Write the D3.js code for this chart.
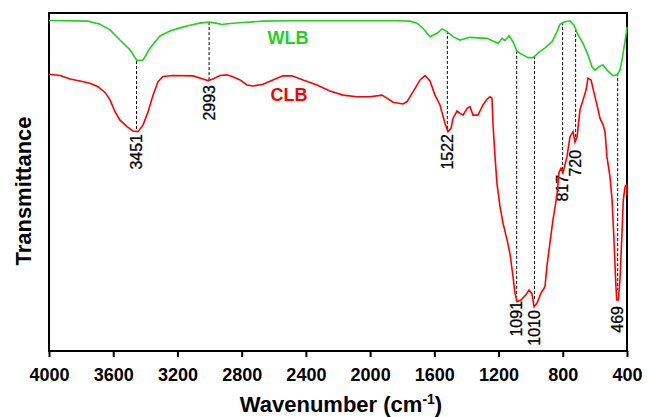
<!DOCTYPE html>
<html>
<head>
<meta charset="utf-8">
<script src="https://cdn.jsdelivr.net/npm/d3@7/dist/d3.min.js"></script>
<style>
    body { margin: 0; background: #fff; }
    .axis text { font-family: Arial, "Liberation Sans", sans-serif; }
</style>
</head>
<body>
<div id="chart"></div>
<script>
// tick labels on the wavenumber axis
var xTicks = [4000, 3600, 3200, 2800, 2400, 2000, 1600, 1200, 800, 400];

// WLB spectrum (wavenumber, transmittance a.u.)
var wlbWn = [4000, 3757, 3682, 3620, 3558, 3495, 3452, 3414, 3371, 3309, 3246, 3184, 3122, 3060, 3003, 2960, 2922, 2873, 2792, 2667,
    2499, 2044, 1832, 1752, 1708, 1671, 1627, 1583, 1552, 1521, 1484, 1440, 1378, 1272, 1235, 1203, 1178, 1160, 1135, 1110,
    1085, 1066, 1048, 1017, 985, 954, 911, 867, 836, 817, 786, 755, 730, 705, 674, 643, 618, 599, 568, 549,
    525, 487, 462, 444, 431, 419, 406, 400];
var wlbT = [97.8, 97.6, 96.7, 95.0, 92.0, 89.1, 85.9, 86.1, 89.6, 93.2, 94.7, 95.6, 96.4, 97.0, 97.3, 97.0, 96.6, 96.9, 97.2, 97.6,
    97.7, 97.7, 97.7, 97.6, 97.0, 95.5, 93.0, 94.0, 95.3, 94.5, 93.0, 92.0, 92.8, 92.5, 91.7, 91.0, 92.5, 91.8, 93.3, 91.5,
    88.6, 88.1, 87.6, 86.8, 86.8, 88.1, 89.7, 91.5, 94.5, 96.7, 97.4, 97.7, 96.4, 93.5, 91.0, 87.6, 84.1, 83.1, 84.3, 84.6,
    83.1, 81.5, 81.7, 83.1, 86.1, 89.6, 93.5, 95.9];

// CLB spectrum
var clbWn = [4000, 3931, 3869, 3807, 3745, 3695, 3651, 3620, 3589, 3558, 3514, 3477, 3446, 3414, 3383, 3352, 3321, 3290, 3228, 3103,
    3041, 3010, 2979, 2935, 2891, 2860, 2810, 2767, 2729, 2667, 2605, 2543, 2487, 2418, 2331, 2250, 2169, 2082, 2001, 1926,
    1895, 1857, 1795, 1770, 1752, 1720, 1689, 1658, 1627, 1596, 1565, 1534, 1515, 1496, 1484, 1459, 1440, 1421, 1396, 1378,
    1359, 1328, 1297, 1272, 1253, 1241, 1235, 1222, 1210, 1191, 1172, 1147, 1129, 1110, 1098, 1085, 1060, 1029, 1010, 992,
    979, 961, 936, 911, 898, 880, 861, 836, 823, 811, 799, 774, 755, 736, 724, 711, 693, 674, 655, 643,
    624, 612, 587, 568, 549, 537, 525, 506, 493, 481, 470, 464, 454, 444, 433, 423, 412, 402, 400];
var clbT = [81.9, 81.5, 80.5, 79.9, 79.2, 78.2, 76.5, 74.3, 70.8, 68.3, 66.4, 65.1, 64.9, 66.9, 70.8, 75.7, 79.7, 81.2, 81.5, 81.4,
    80.5, 80.0, 80.5, 81.5, 81.7, 81.2, 80.2, 78.7, 78.4, 78.9, 80.2, 81.4, 81.4, 80.2, 78.7, 76.9, 75.7, 75.2, 75.2, 75.7,
    74.8, 73.6, 73.1, 73.8, 75.2, 77.7, 80.2, 81.5, 79.9, 75.7, 72.8, 67.4, 64.9, 65.9, 68.8, 71.0, 70.3, 69.8, 71.8, 72.3,
    69.8, 69.8, 72.8, 74.5, 75.2, 74.8, 67.4, 57.5, 49.6, 42.7, 37.8, 32.8, 28.9, 22.0, 17.1, 14.6, 15.1, 16.7, 18.0, 16.9,
    13.1, 14.1, 17.1, 19.0, 25.4, 32.0, 38.8, 46.2, 53.0, 54.1, 52.7, 57.5, 63.4, 64.9, 61.8, 63.4, 71.3, 74.3, 77.2, 80.7,
    80.2, 77.7, 72.8, 68.8, 66.9, 64.9, 57.5, 51.6, 44.7, 32.8, 20.0, 15.1, 15.1, 21.0, 32.8, 44.7, 48.6, 49.1, 46.0];

// peak markers
var peakLabels = ["3451", "2993", "1522", "1091", "1010", "817", "720", "469"];
var peakWn = [3455, 3003, 1519, 1087, 976, 801, 720, 458];
var peakTop = [85.8, 97.3, 94.7, 88.8, 87.3, 97.3, 95.3, 82.2];
var peakBottom = [65.1, 80.2, 65.1, 16.0, 15.1, 53.6, 63.3, 18.0];
var labelStart = [64.2, 78.7, 64.2, 14.8, 12.1, 52.1, 59.5, 13.3];

var seriesNames = ["WLB", "CLB"];
var seriesColors = ["#1ed21e", "#ff0000"];

FtirChart = function(_parentElement) {
    vis = this;
    vis.parentElement = _parentElement;
    vis.svgWidth = 649;
    vis.svgHeight = 417;
    vis.margin = { top: 13, right: 22, bottom: 66, left: 49 };
    vis.width = vis.svgWidth - vis.margin.left - vis.margin.right;
    vis.height = vis.svgHeight - vis.margin.top - vis.margin.bottom;
    vis.font = "Arial, 'Liberation Sans', sans-serif";

    vis.initVis();
};

FtirChart.prototype.initVis = function() {
    vis = this;

    vis.svg = d3.select("#" + vis.parentElement).append("svg")
        .attr("width", vis.svgWidth)
        .attr("height", vis.svgHeight)
        .append("g")
        .attr("transform", "translate(" + vis.margin.left + "," + vis.margin.top + ")");

    vis.x = d3.scaleLinear().domain([4000, 400]).range([0, vis.width]);
    vis.y = d3.scaleLinear().domain([0, 100]).range([vis.height, 0]);

    vis.drawAxes();
    vis.drawPeaks();
    vis.drawSpectra();
};

FtirChart.prototype.drawAxes = function() {
    vis = this;

    var xAxis = d3.axisBottom(vis.x)
        .tickValues(xTicks)
        .tickSize(6)
        .tickPadding(11)
        .tickFormat(d3.format("d"));

    var g = vis.svg.append("g")
        .attr("class", "axis")
        .attr("transform", "translate(0," + vis.height + ")")
        .call(xAxis);
    g.select(".domain").remove();
    g.selectAll(".tick line").attr("stroke", "#000").attr("stroke-width", 2);
    g.selectAll(".tick text")
        .attr("fill", "#000")
        .attr("font-size", "18px")
        .attr("font-weight", "bold");

    vis.svg.append("rect")
        .attr("width", vis.width)
        .attr("height", vis.height)
        .attr("fill", "none")
        .attr("stroke", "#000")
        .attr("stroke-width", 2);

    var title = vis.svg.append("text")
        .attr("x", vis.width / 2 + 3)
        .attr("y", vis.height + 61)
        .attr("text-anchor", "middle")
        .attr("font-family", vis.font)
        .attr("font-size", "22px")
        .attr("font-weight", "bold");
    title.append("tspan").text("Wavenumber (cm");
    title.append("tspan").attr("dy", -8).attr("font-size", "14px").text("-1");
    title.append("tspan").attr("dy", 8).text(")");

    vis.svg.append("text")
        .attr("transform", "translate(" + (-18) + "," + (vis.height / 2 + 9) + ") rotate(-90)")
        .attr("text-anchor", "middle")
        .attr("font-family", vis.font)
        .attr("font-size", "22px")
        .attr("font-weight", "bold")
        .text("Transmittance");
};

FtirChart.prototype.drawPeaks = function() {
    vis = this;

    var peaks = peakLabels.map(function(d, i) {
        return { label: d, wn: peakWn[i], top: peakTop[i], bottom: peakBottom[i], start: labelStart[i] };
    });

    vis.svg.append("g").selectAll("line")
        .data(peaks)
        .enter().append("line")
        .attr("x1", function(d) { return vis.x(d.wn); })
        .attr("x2", function(d) { return vis.x(d.wn); })
        .attr("y1", function(d) { return vis.y(d.top); })
        .attr("y2", function(d) { return vis.y(d.bottom); })
        .attr("stroke", "#000")
        .attr("stroke-width", 1)
        .attr("stroke-dasharray", "3,2");

    vis.svg.append("g").selectAll("text")
        .data(peaks)
        .enter().append("text")
        .attr("transform", function(d) { return "translate(" + vis.x(d.wn) + "," + vis.y(d.start) + ") rotate(-90)"; })
        .attr("text-anchor", "end")
        .attr("dy", "0.36em")
        .attr("font-family", vis.font)
        .attr("font-size", "16px")
        .attr("stroke", "#000")
        .attr("stroke-width", 0.3)
        .text(function(d) { return d.label; });
};

FtirChart.prototype.drawSpectra = function() {
    vis = this;

    var line = d3.line()
        .x(function(d) { return vis.x(d[0]); })
        .y(function(d) { return vis.y(d[1]); });

    var spectra = [
        d3.zip(wlbWn, wlbT),
        d3.zip(clbWn, clbT)
    ];

    vis.svg.append("g").selectAll("path")
        .data(spectra)
        .enter().append("path")
        .attr("d", line)
        .attr("fill", "none")
        .attr("stroke", function(d, i) { return seriesColors[i]; })
        .attr("stroke-width", 1.6);

    // series names sit next to the curves
    var namePos = [[239, 31], [240, 88]];
    vis.svg.append("g").selectAll("text")
        .data(seriesNames)
        .enter().append("text")
        .attr("x", function(d, i) { return namePos[i][0]; })
        .attr("y", function(d, i) { return namePos[i][1]; })
        .attr("text-anchor", "middle")
        .attr("font-family", vis.font)
        .attr("font-size", "18px")
        .attr("font-weight", "bold")
        .attr("fill", function(d, i) { return seriesColors[i]; })
        .text(function(d) { return d; });
};

new FtirChart("chart");
</script>
</body>
</html>
